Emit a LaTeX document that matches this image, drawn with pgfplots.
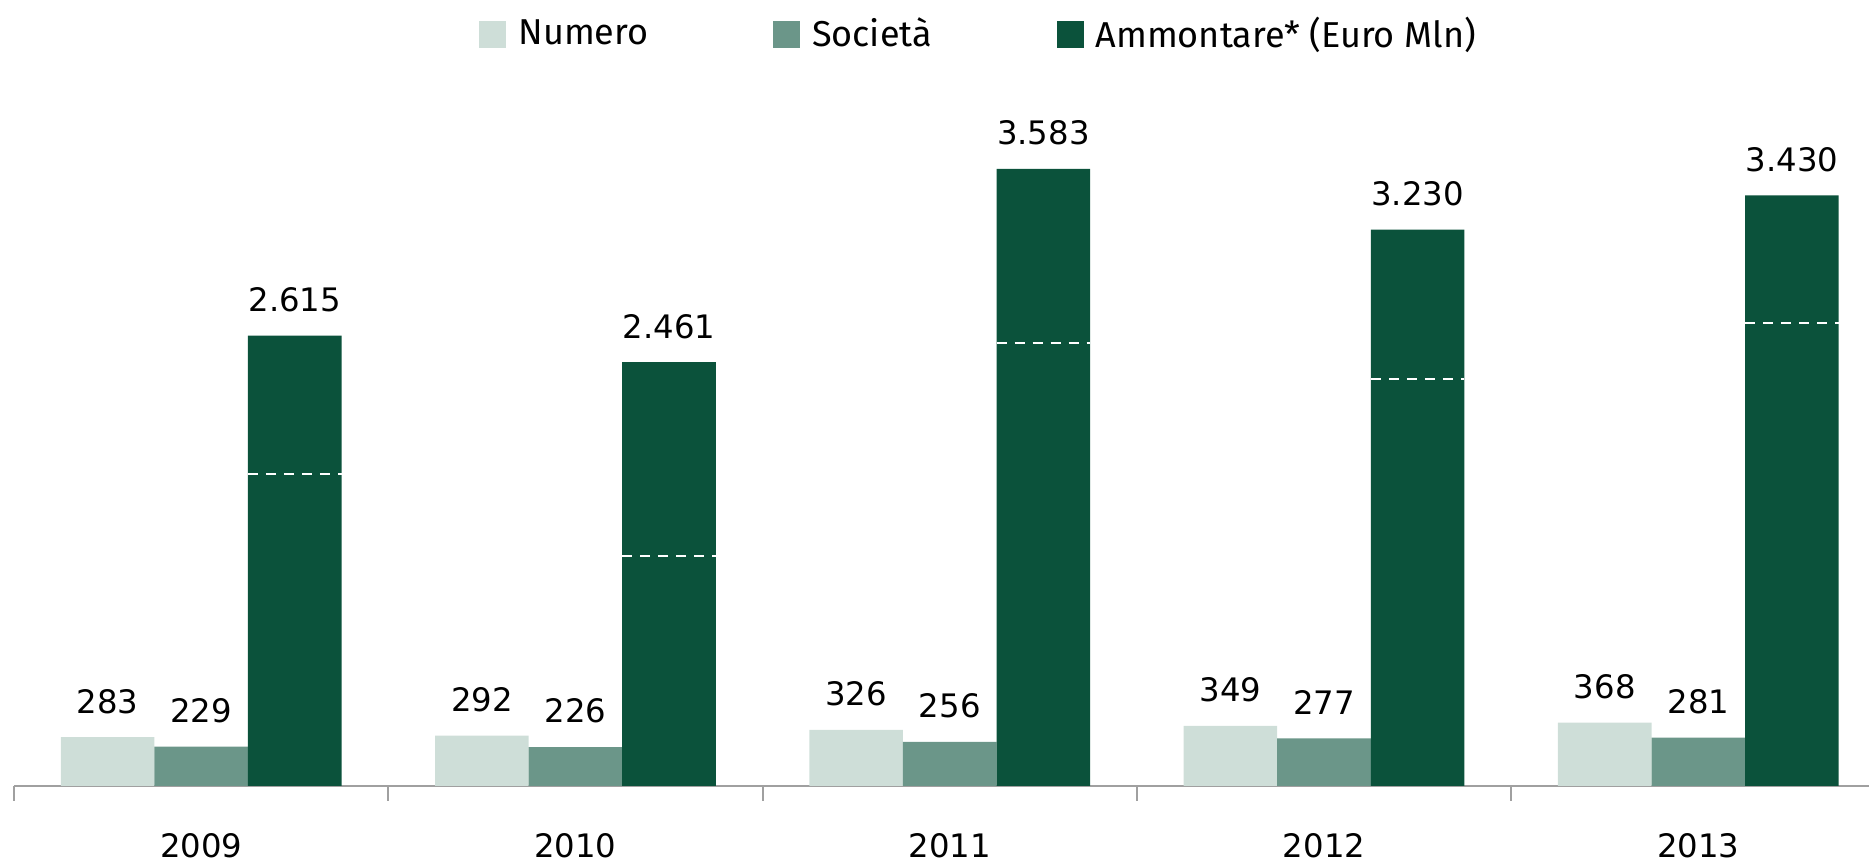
\documentclass[border=0pt]{standalone}
\usepackage{pgfplots}
\pgfplotsset{compat=1.18}
\usepackage{fontspec}
\setmainfont{Fira Sans}
\newfontfamily\numfont{DejaVu Sans}
\definecolor{cnum}{RGB}{206,222,216}
\definecolor{csoc}{RGB}{107,150,137}
\definecolor{camm}{RGB}{11,82,59}
\definecolor{caxis}{RGB}{160,160,160}
\newcommand{\chartfont}{\fontsize{10.8}{13}\selectfont}
\newcommand{\numberfont}{\numfont\fontsize{9.7}{12}\selectfont}
\begin{document}
\begin{tikzpicture}
\begin{axis}[
  at={(4.2pt,22.8pt)}, anchor=south west,
  scale only axis, width=556.5pt, height=235.8pt,
  xmin=-0.5, xmax=4.456, ymin=0, ymax=4564,
  clip=false,
  axis y line=none, axis x line*=bottom,
  x axis line style={draw=caxis, line width=0.6pt, -},
  xtick={0,1,2,3,4}, xticklabels={2009,2010,2011,2012,2013},
  major tick length=0pt,
  extra x ticks={-0.5,0.5,1.5,2.5,3.5},
  extra x tick labels={},
  extra x tick style={major tick length=4.5pt, tick align=outside, tick style={draw=caxis, line width=0.6pt}},
  xticklabel style={font=\numberfont, anchor=base, yshift=-21.4pt},
  /pgf/number format/1000 sep={.},
  /pgf/number format/assume math mode=true,
  nodes near coords style={font=\numberfont, inner sep=0pt, yshift=6.9pt, text=black},
  legend columns=3,
  legend style={at={(0.5195,0.956)}, anchor=center, draw=none, fill=none, font=\chartfont,
    inner sep=0pt, nodes={inner sep=0pt},
    /tikz/every odd column/.append style={column sep=3.6pt},
    /tikz/every even column/.append style={column sep=37.4pt}},
]
\addplot[ybar, bar width=0.25, bar shift=0, fill=cnum, draw=none, nodes near coords,
  legend image code/.code={\fill[cnum] (0pt,-4.05pt) rectangle (8.1pt,4.05pt);}]
  coordinates {(-0.25,283) (0.75,292) (1.75,326) (2.75,349) (3.75,368)};
\addlegendentry{Numero}
\addplot[ybar, bar width=0.25, bar shift=0, fill=csoc, draw=none, nodes near coords,
  legend image code/.code={\fill[csoc] (0pt,-4.05pt) rectangle (8.1pt,4.05pt);}]
  coordinates {(0,229) (1,226) (2,256) (3,277) (4,281)};
\addlegendentry{Società}
\addplot[ybar, bar width=0.25, bar shift=0, fill=camm, draw=none, nodes near coords,
  legend image code/.code={\fill[camm] (0pt,-4.05pt) rectangle (8.1pt,4.05pt);}]
  coordinates {(0.25,2615) (1.25,2461) (2.25,3583) (3.25,3230) (4.25,3430)};
\addlegendentry{Ammontare* (Euro Mln)}
\addplot[forget plot, draw=white, line width=0.65pt, dash pattern=on 3pt off 2.4pt] coordinates {(0.125,1812) (0.375,1812)};
\addplot[forget plot, draw=white, line width=0.65pt, dash pattern=on 3pt off 2.4pt] coordinates {(1.125,1336) (1.375,1336)};
\addplot[forget plot, draw=white, line width=0.65pt, dash pattern=on 3pt off 2.4pt] coordinates {(2.125,2574) (2.375,2574)};
\addplot[forget plot, draw=white, line width=0.65pt, dash pattern=on 3pt off 2.4pt] coordinates {(3.125,2362) (3.375,2362)};
\addplot[forget plot, draw=white, line width=0.65pt, dash pattern=on 3pt off 2.4pt] coordinates {(4.125,2689) (4.375,2689)};
\end{axis}
\pgfresetboundingbox
\path[use as bounding box] (0,0) rectangle (560.7pt,258.6pt);
\end{tikzpicture}
\end{document}
